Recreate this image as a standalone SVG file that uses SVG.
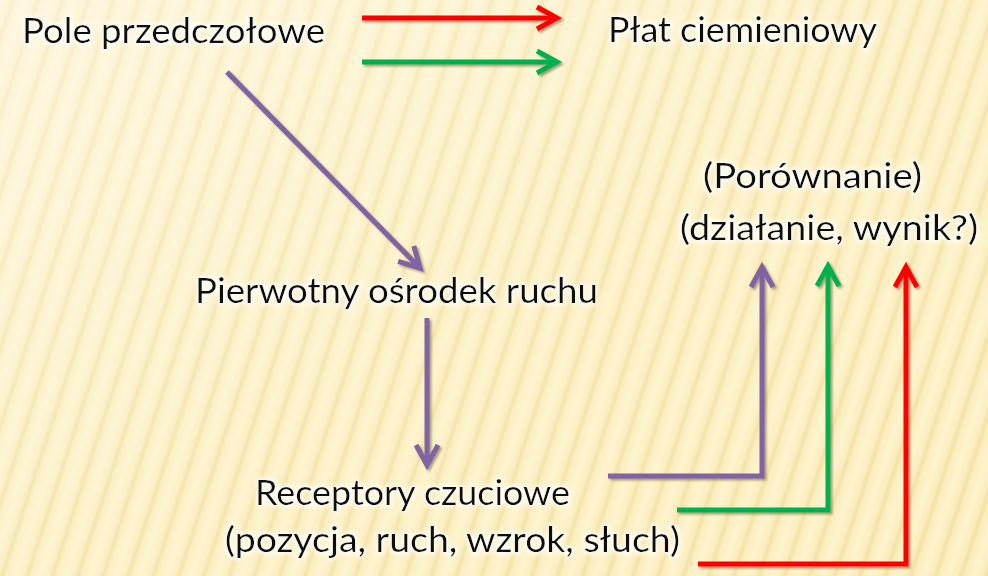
<svg xmlns="http://www.w3.org/2000/svg" width="988" height="576" viewBox="0 0 988 576">
  <defs>
    <linearGradient id="stripeGrad" x1="0" y1="0" x2="1" y2="0">
      <stop offset="0" stop-color="#FDF3CB"/>
      <stop offset="0.35" stop-color="#FBEDBC"/>
      <stop offset="0.5" stop-color="#F4E0A2"/>
      <stop offset="0.65" stop-color="#FBEDBC"/>
      <stop offset="1" stop-color="#FDF3CB"/>
    </linearGradient>
    <pattern id="stripes" patternUnits="userSpaceOnUse" width="24" height="24" patternTransform="rotate(18)">
      <rect width="24" height="24" fill="url(#stripeGrad)"/>
    </pattern>
    <linearGradient id="wash" x1="0" y1="0" x2="1" y2="1">
      <stop offset="0" stop-color="#FFFFFF" stop-opacity="0.45"/>
      <stop offset="0.5" stop-color="#FFFFFF" stop-opacity="0.12"/>
      <stop offset="1" stop-color="#FFFFFF" stop-opacity="0"/>
    </linearGradient>
    <filter id="shadow" filterUnits="userSpaceOnUse" x="0" y="0" width="988" height="576">
      <feDropShadow dx="2" dy="2" stdDeviation="1" flood-color="#6b5a3a" flood-opacity="0.55"/>
    </filter>
    <filter id="glow" x="-5%" y="-20%" width="110%" height="140%">
      <feMorphology in="SourceAlpha" operator="dilate" radius="2" result="d"/>
      <feGaussianBlur in="d" stdDeviation="2" result="b"/>
      <feFlood flood-color="#FFFFFF" flood-opacity="0.8"/>
      <feComposite in2="b" operator="in" result="g"/>
      <feMerge><feMergeNode in="g"/><feMergeNode in="SourceGraphic"/></feMerge>
    </filter>
    <marker id="hRed" markerUnits="userSpaceOnUse" markerWidth="40" markerHeight="40" refX="0" refY="0" viewBox="-30 -20 40 40" orient="auto" overflow="visible">
      <path d="M-20,-11 L0,0 L-20,11" fill="none" stroke="#FF0000" stroke-width="5"/>
    </marker>
    <marker id="hGreen" markerUnits="userSpaceOnUse" markerWidth="40" markerHeight="40" refX="0" refY="0" viewBox="-30 -20 40 40" orient="auto" overflow="visible">
      <path d="M-20,-11 L0,0 L-20,11" fill="none" stroke="#00B050" stroke-width="5"/>
    </marker>
    <marker id="hPurple" markerUnits="userSpaceOnUse" markerWidth="40" markerHeight="40" refX="0" refY="0" viewBox="-30 -20 40 40" orient="auto" overflow="visible">
      <path d="M-20,-11 L0,0 L-20,11" fill="none" stroke="#8064A2" stroke-width="5"/>
    </marker>
  </defs>
  <style>
    .t { font-family: Lato, "Open Sans", "Liberation Sans", sans-serif; font-size: 35px; fill: #0A0A0A; filter: url(#glow); }
    .c { fill: none; stroke-width: 5; }
    .red { stroke: #FF0000; }
    .green { stroke: #00B050; }
    .purple { stroke: #8064A2; }
  </style>

  <rect width="988" height="576" fill="url(#stripes)"/>
  <rect width="988" height="576" fill="url(#wash)"/>

  <g id="connectors" filter="url(#shadow)">
    <path class="c red" d="M362,18 L557,18" marker-end="url(#hRed)"/>
    <path class="c green" d="M362,62 L557,62" marker-end="url(#hGreen)"/>
    <path class="c purple" d="M227,72 L420,268" marker-end="url(#hPurple)"/>
    <path class="c purple" d="M427,318 L427,465" marker-end="url(#hPurple)"/>
    <path class="c purple" d="M608,476 L762,476 L762,267" marker-end="url(#hPurple)"/>
    <path class="c green" d="M677,510 L828,510 L828,266" marker-end="url(#hGreen)"/>
    <path class="c red" d="M698,564 L906,564 L906,267" marker-end="url(#hRed)"/>
  </g>

  <g id="node-pole">
    <text class="t" x="22" y="43" textLength="303" lengthAdjust="spacingAndGlyphs">Pole przedczołowe</text>
  </g>
  <g id="node-plat">
    <text class="t" x="608" y="42" textLength="269" lengthAdjust="spacingAndGlyphs">Płat ciemieniowy</text>
  </g>
  <g id="node-porownanie">
    <text class="t" x="703" y="188" textLength="219" lengthAdjust="spacingAndGlyphs">(Porównanie)</text>
    <text class="t" x="680" y="240" textLength="298" lengthAdjust="spacingAndGlyphs">(działanie, wynik?)</text>
  </g>
  <g id="node-pierwotny">
    <text class="t" x="195" y="303" textLength="403" lengthAdjust="spacingAndGlyphs">Pierwotny ośrodek ruchu</text>
  </g>
  <g id="node-receptory">
    <text class="t" x="255" y="505" textLength="315" lengthAdjust="spacingAndGlyphs">Receptory czuciowe</text>
    <text class="t" x="225" y="552" textLength="455" lengthAdjust="spacingAndGlyphs">(pozycja, ruch, wzrok, słuch)</text>
  </g>
</svg>
